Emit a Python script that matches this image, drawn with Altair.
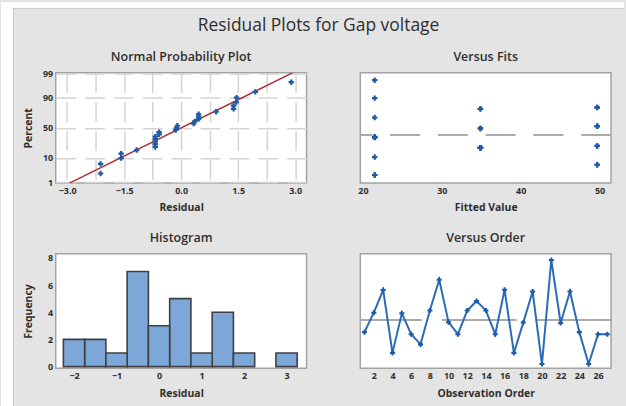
import altair as alt
import pandas as pd
from statistics import NormalDist, mean, stdev

# ---------------- data ----------------
observation = list(range(1, 28))
residual = [-0.58, 0.36, 1.45, -1.58, 0.33, -0.68, -1.17, 0.46, 1.95, -0.10,
            -0.68, 0.46, 0.92, 0.46, -0.68, 1.46, -1.58, -0.12, 1.38, -2.12,
            2.90, -0.14, 1.38, -0.58, -2.12, -0.68, -0.68]
fitted = [49.7, 34.9, 49.7, 49.7, 34.9, 34.9, 21.5, 49.7, 21.5, 21.5,
          34.9, 49.7, 21.5, 49.7, 34.9, 49.7, 49.7, 21.5, 34.9, 21.5,
          21.5, 21.5, 34.9, 49.7, 21.5, 34.9, 34.9]
prob_ticks = [1, 10, 50, 90, 99]
norm_grid_x = [-3.0, -2.25, -1.5, -0.75, 0.0, 0.75, 1.5, 2.25, 3.0]
fits_x_ticks = [20, 30, 40, 50]
resid_y_ticks = [-2, 0, 2]
hist_x_ticks = [-2, -1, 0, 1, 2, 3]
hist_y_ticks = [0, 2, 4, 6, 8]
order_x_ticks = [2, 4, 6, 8, 10, 12, 14, 16, 18, 20, 22, 24, 26]
zero_ref = [0]

MAIN_TITLE = "Residual Plots for Gap voltage"
SUBTITLES = ["Normal Probability Plot", "Versus Fits", "Histogram", "Versus Order"]

# ---------------- styling ----------------
FONT = "Open Sans"
TXT = "#2e2e2e"
BG = "#e4e4e4"
BLUE = "#1f5aa6"
W, H1, H2 = 252, 111, 115

# ---------------- derived tables ----------------
nd = NormalDist()
n = len(residual)
srt = sorted(residual)
norm_df = pd.DataFrame({"x": srt,
                        "y": [nd.inv_cdf((i + 1 - 0.3) / (n + 0.4)) for i in range(n)]})
mu, sd = mean(residual), stdev(residual)
zlim = 2.36
line_df = pd.DataFrame({"x": [mu - sd * zlim, mu + sd * zlim], "y": [-zlim, zlim]})
grid_z = [nd.inv_cdf(p / 100) for p in prob_ticks]

main_df = pd.DataFrame({"obs": observation, "res": residual, "fit": fitted})
zero_df = pd.DataFrame({"z": zero_ref})
deco = pd.DataFrame({"k": [0]})


def ax(**kw):
    base = dict(labelFont=FONT, labelFontSize=9, labelFontWeight="bold", labelColor=TXT,
                titleFont=FONT, titleFontSize=10.5, titleFontWeight="bold", titleColor=TXT,
                domain=False, ticks=False, labelPadding=3, grid=False, labelOverlap=False,
                titleBaseline="middle")
    base.update(kw)
    return alt.Axis(**base)


def xax(title, h, **kw):
    return ax(title=title, titleX=W / 2, titleY=25, **kw)


def yax(title, h, **kw):
    return ax(title=title, titleX=-27, titleY=h / 2, labelPadding=3, **kw)


def text_layer(txt, x, y, size, weight):
    return alt.Chart(deco).mark_text(text=txt, font=FONT, fontSize=size, fontWeight=weight,
                                     color=TXT, align="center", baseline="middle").encode(
        x=alt.value(x), y=alt.value(y))


# ---------------- panel 1: normal probability plot ----------------
nx = alt.X("x:Q", scale=alt.Scale(domain=[-3.3, 3.3], nice=False, zero=False),
           axis=xax("Residual", H1, values=norm_grid_x,
                    labelExpr="abs(datum.value/1.5 - round(datum.value/1.5)) < 0.001 ? format(datum.value, '.1f') : ''",
                    grid=True, gridColor="#d4d4d4", gridWidth=1.5, gridDash=[20, 9]))
ny = alt.Y("y:Q", scale=alt.Scale(domain=[-2.36, 2.36], nice=False, zero=False),
           axis=yax("Percent", H1, values=grid_z,
                    labelExpr="format(cumulativeNormal(datum.value)*100, '.0f')",
                    grid=True, gridColor="#d4d4d4", gridWidth=1.5, gridDash=[20, 9]))

strip_top = alt.Chart(deco).mark_rect(color="white").encode(
    x=alt.value(-55), x2=alt.value(571), y=alt.value(-71), y2=alt.value(-65))
strip_left = alt.Chart(deco).mark_rect(color="white").encode(
    x=alt.value(-55), x2=alt.value(-43), y=alt.value(-71), y2=alt.value(335))
edge_top = alt.Chart(deco).mark_rule(color="#cbcbcb", strokeWidth=1).encode(
    x=alt.value(-43), x2=alt.value(571), y=alt.value(-64.5))
edge_left = alt.Chart(deco).mark_rule(color="#cbcbcb", strokeWidth=1).encode(
    x=alt.value(-42.5), y=alt.value(-65), y2=alt.value(335))

norm_line = alt.Chart(line_df).mark_line(color="#b03030", strokeWidth=1.5, clip=True).encode(x=nx, y=ny)
norm_pts = alt.Chart(norm_df).mark_point(shape="cross", filled=True, size=30, color=BLUE,
                                         opacity=1).encode(x=nx, y=ny)

p1 = alt.layer(strip_top, strip_left, edge_top, edge_left,
               text_layer(MAIN_TITLE, 264, -47, 17.5, "normal"),
               text_layer(SUBTITLES[0], W / 2, -16, 12.5, 600),
               norm_line, norm_pts).properties(width=W, height=H1)

# ---------------- panel 2: versus fits ----------------
fx = alt.X("fit:Q", scale=alt.Scale(domain=[19.67, 51.46], nice=False, zero=False),
           axis=xax("Fitted Value", H1, values=fits_x_ticks, format="d"))
fy = alt.Y("res:Q", scale=alt.Scale(domain=[-2.55, 3.3], nice=False, zero=False),
           axis=yax("Residual", H1, values=resid_y_ticks, format="d"))
fits_zero = alt.Chart(zero_df).mark_rule(color="#aaaaaa", strokeWidth=2, strokeDash=[30, 18]).encode(
    y=alt.Y("z:Q", scale=alt.Scale(domain=[-2.55, 3.3], nice=False, zero=False), axis=None))
fits_pts = alt.Chart(main_df).mark_point(shape="cross", filled=True, size=30, color=BLUE,
                                         opacity=1).encode(x=fx, y=fy)
p2 = alt.layer(text_layer(SUBTITLES[1], W / 2, -16, 12.5, 600),
               fits_zero, fits_pts).properties(width=W, height=H1)

# ---------------- panel 3: histogram ----------------
hist = alt.Chart(main_df).transform_bin(
    ["b", "b_end"], "res", bin=alt.Bin(step=0.5, anchor=-0.25)
).transform_aggregate(count="count()", groupby=["b", "b_end"]).mark_bar(
    fill="#7da7d9", stroke="#404040", strokeWidth=1.6, opacity=1
).encode(
    x=alt.X("b:Q", scale=alt.Scale(domain=[-2.43, 3.47], nice=False, zero=False),
            axis=xax("Residual", H2, values=hist_x_ticks, format="d")),
    x2="b_end:Q",
    y=alt.Y("count:Q", scale=alt.Scale(domain=[-0.12, 8.3], nice=False, zero=False),
            axis=yax("Frequency", H2, values=hist_y_ticks, format="d")),
    y2=alt.datum(0),
)
p3 = alt.layer(text_layer(SUBTITLES[2], W / 2, -16, 12.5, 600), hist).properties(width=W, height=H2)

# ---------------- panel 4: versus order ----------------
ox = alt.X("obs:Q", scale=alt.Scale(domain=[0.55, 27.4], nice=False, zero=False),
           axis=xax("Observation Order", H2, values=order_x_ticks, format="d"))
oy = alt.Y("res:Q", scale=alt.Scale(domain=[-2.32, 3.2], nice=False, zero=False),
           axis=yax("Residual", H2, values=resid_y_ticks, format="d"))
order_zero = alt.Chart(zero_df).mark_rule(color="#aaaaaa", strokeWidth=2, strokeDash=[75, 20]).encode(
    y=alt.Y("z:Q", scale=alt.Scale(domain=[-2.32, 3.2], nice=False, zero=False), axis=None))
order_line = alt.Chart(main_df).mark_line(
    color="#2b6cb6", strokeWidth=2,
    point=alt.OverlayMarkDef(shape="cross", filled=True, size=26, color=BLUE, opacity=1)
).encode(x=ox, y=oy)
p4 = alt.layer(text_layer(SUBTITLES[3], W / 2, -16, 12.5, 600),
               order_zero, order_line).properties(width=W, height=H2)

chart = alt.concat(p1, p2, p3, p4, columns=2, spacing={"row": 71, "column": 54},
                   bounds="flush", padding=0).configure(
    background=BG, font=FONT
).configure_view(stroke="#a3a3a3", strokeWidth=1.5, fill="white")

chart.save("out.html", embed_options={"renderer": "svg", "actions": False})
